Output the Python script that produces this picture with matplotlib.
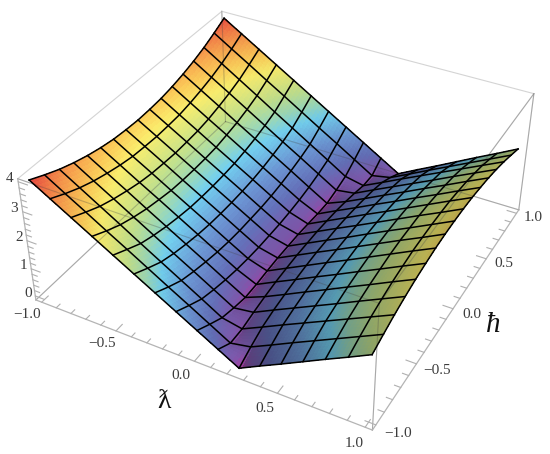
import numpy as np
import matplotlib
matplotlib.use('Agg')
import matplotlib.pyplot as plt
from matplotlib.colors import LinearSegmentedColormap
from mpl_toolkits.mplot3d import proj3d

# grid of the mesh
lam = np.array([-1, -.875, -.75, -.625, -.5, -.375, -.25, -.125, 0, .125, .25, .375, .5, .625, .75, .875, 1])
hbar = np.array([-1, -.875, -.75, -.625, -.5, -.375, -.25, -.125, 0, .125, .25, .375, .5, .625, .75, .875, 1])

# heights, one row per hbar, one column per lambda
r100 = [4.00, 3.60, 3.20, 2.80, 2.40, 2.00, 1.60, 1.20, .80, .40, .00, .37, .73, 1.10, 1.47, 1.83, 2.20]
r088 = [3.77, 3.36, 2.96, 2.55, 2.15, 1.74, 1.33, .93, .52, .11, .25, .60, .96, 1.31, 1.66, 2.01, 2.36]
r075 = [3.56, 3.15, 2.74, 2.33, 1.91, 1.50, 1.09, .68, .26, .12, .46, .81, 1.15, 1.49, 1.83, 2.17, 2.51]
r062 = [3.39, 2.98, 2.58, 2.17, 1.76, 1.35, .95, .54, .13, .23, .58, .92, 1.26, 1.60, 1.95, 2.29, 2.63]
r050 = [3.25, 2.85, 2.45, 2.04, 1.64, 1.24, .84, .43, .03, .32, .66, 1.01, 1.35, 1.70, 2.04, 2.39, 2.73]
r038 = [3.14, 2.74, 2.34, 1.95, 1.55, 1.15, .75, .35, .04, .39, .73, 1.08, 1.42, 1.77, 2.11, 2.46, 2.80]
r025 = [3.06, 2.66, 2.27, 1.87, 1.48, 1.09, .69, .30, .08, .43, .78, 1.13, 1.47, 1.82, 2.17, 2.52, 2.86]
r012 = [3.02, 2.63, 2.24, 1.84, 1.45, 1.06, .66, .27, .11, .46, .81, 1.15, 1.50, 1.85, 2.20, 2.54, 2.89]
r000 = [3.00, 2.61, 2.22, 1.83, 1.44, 1.05, .66, .27, .11, .46, .81, 1.15, 1.51, 1.86, 2.20, 2.55, 2.90]
z_table = np.array([r100, r088, r075, r062, r050, r038, r025, r012, r000,
                    r012, r025, r038, r050, r062, r075, r088, r100])

lam_ticks = [-1.0, -0.5, 0.0, 0.5, 1.0]
hbar_ticks = [-1.0, -0.5, 0.0, 0.5, 1.0]
z_ticks = [0, 1, 2, 3, 4]

x0, x1 = -1.04, 1.04
y0, y1 = -1.04, 1.04
z0, z1 = -0.15, 4.1

plt.rcParams['font.family'] = ['Liberation Serif', 'DejaVu Serif']

stops = [(0.00, (165, 65, 165)), (0.04, (125, 88, 172)), (0.13, (100, 112, 185)),
         (0.25, (108, 150, 212)), (0.38, (115, 208, 240)), (0.45, (155, 217, 185)),
         (0.54, (195, 225, 140)), (0.68, (250, 238, 110)), (0.76, (252, 205, 90)),
         (0.84, (250, 170, 80)), (0.93, (245, 125, 72)), (1.00, (235, 80, 65))]
cmap = LinearSegmentedColormap.from_list('rb', [(s, tuple(v / 255 for v in c)) for s, c in stops])

fig = plt.figure(figsize=(5.5, 4.54), dpi=100)
ax = fig.add_axes([0.0102, -0.053, 1, 1.212], projection='3d')
ax.set_proj_type('persp', focal_length=0.44)
ax.view_init(elev=36.2, azim=-61.6)
ax.set_box_aspect((1, 1, 0.4), zoom=0.953)
ax.set_xlim(x0, x1, view_margin=0)
ax.set_ylim(y0, y1, view_margin=0)
ax.set_zlim(z0, z1, view_margin=0)
ax.set_axis_off()
ax.computed_zorder = False

# finer facets inside each mesh cell, only so the colour runs smoothly
n = 6
lam_f = np.linspace(-1, 1, 16 * n + 1)
hbar_f = np.linspace(-1, 1, 16 * n + 1)
zc = np.array([np.interp(lam_f, lam, row) for row in z_table])
zf = np.array([np.interp(hbar_f, hbar, col) for col in zc.T]).T
X, Y = np.meshgrid(lam_f, hbar_f)

gh, gl = np.gradient(zf, hbar_f, hbar_f)
k = 0.19
nx, ny, nz = -gl * k, -gh * k, np.ones_like(zf)
norm = np.sqrt(nx**2 + ny**2 + nz**2)
dot = (nx * 0.5 + nz * 0.85) / norm / np.hypot(0.5, 0.85)
shade = 0.45 + 0.55 * dot
rgb = cmap(np.clip(zf / 4, 0, 1))
rgb[..., :3] *= np.clip(shade, 0, 1)[..., None]

ax.plot_surface(X, Y, zf, facecolors=rgb, rstride=1, cstride=1, shade=False,
                linewidth=0, antialiased=False, zorder=2)

# box
box_c = '#d4d4d4'
axis_c = '#b4b4b4'
behind = [((x0, y0, z1), (x0, y1, z1)), ((x0, y1, z1), (x1, y1, z1)), ((x1, y1, z1), (x1, y0, z1)),
          ((x1, y0, z0), (x1, y0, z1)), ((x0, y1, z0), (x1, y1, z0)), ((x0, y0, z0), (x0, y1, z0)),
          ((x1, y1, z0), (x1, y1, z1)), ((x0, y1, z0), (x0, y1, z1))]
for a, b in behind:
    ax.plot(*zip(a, b), color=box_c, lw=0.8, zorder=1)
ax.plot([x0, x1], [y0, y0], [z1, z1], color=box_c, lw=0.8, zorder=1)

# box lines that show through the translucent surface
through = [((x0, y0, z1), (x1, y0, z1)), ((x0, y1, z0), (x1, y1, z0)), ((x0, y0, z0), (x0, y1, z0)),
           ((x0, y1, z0), (x0, y1, z1)), ((x1, y1, z0), (x1, y1, z1)), ((x1, y0, z0), (x1, y0, z1)),
           ((x1, y1, z1), (x1, y0, z1))]
for a, b in through:
    ax.plot(*zip(a, b), color='#444444', lw=0.8, alpha=0.3, zorder=3)

# mesh
for j in range(len(hbar)):
    ax.plot(lam, np.full(len(lam), hbar[j]), z_table[j], color='black', lw=1.1, zorder=4)
for i in range(len(lam)):
    ax.plot(np.full(len(hbar), lam[i]), hbar, z_table[:, i], color='black', lw=1.1, zorder=4)

# axes lines and ticks
ax.plot([x0, x0], [y0, y0], [z0, z1], color=axis_c, lw=0.9, zorder=5)
ax.plot([x0, x1], [y0, y0], [z0, z0], color=axis_c, lw=0.9, zorder=5)
ax.plot([x1, x1], [y0, y1], [z0, z0], color=axis_c, lw=0.9, zorder=5)

tick_c = '#b0b0b0'
for v in np.arange(-1, 1.001, 0.1):
    major = abs(v * 2 - round(v * 2)) < 1e-6
    t = 0.06 if major else 0.035
    ax.plot([v, v], [y0, y0 + t], [z0, z0], color=tick_c, lw=0.8, zorder=5)
    ax.plot([x1, x1 - t], [v, v], [z0, z0], color=tick_c, lw=0.8, zorder=5)
for v in np.arange(0, 4.01, 0.2):
    major = abs(v - round(v)) < 1e-6
    t = 0.06 if major else 0.035
    ax.plot([x0, x0 + t], [y0, y0], [v, v], color=tick_c, lw=0.8, zorder=5)


# labels go on the projected point of the axis, then a nudge in pixels
def label(x, y, z, s, dx=0, dy=0, **kw):
    px, py, _ = proj3d.proj_transform(x, y, z, ax.get_proj())
    ax.annotate(s, xy=(px, py), xycoords='data', xytext=(dx, dy), textcoords='offset pixels',
                ha='center', va='center', zorder=6, annotation_clip=False, **kw)


lab_c = '#3c3c3c'
fs = 11
for v in lam_ticks:
    s = f'{v:.1f}'.replace('-', '\u2212')
    label(v, y0 - 0.16, z0, s, dx=3, dy=5, color=lab_c, fontsize=fs)
for v in hbar_ticks:
    s = f'{v:.1f}'.replace('-', '\u2212')
    label(x1 + 0.19, v, z0, s, dx=-13, dy=5, color=lab_c, fontsize=fs)
for v in z_ticks:
    label(x0 - 0.09, y0 - 0.05, v, str(v), dx=11, dy=3, color=lab_c, fontsize=fs)

label(0.0, y0 - 0.36, z0, '\u019b', dx=7, dy=3, color='#111111', fontsize=20)
label(x1 + 0.36, 0.0, z0, '\u0127', dx=-21, dy=5, color='#111111', fontsize=21, style='italic')

fig.savefig('out.png', dpi=100)
